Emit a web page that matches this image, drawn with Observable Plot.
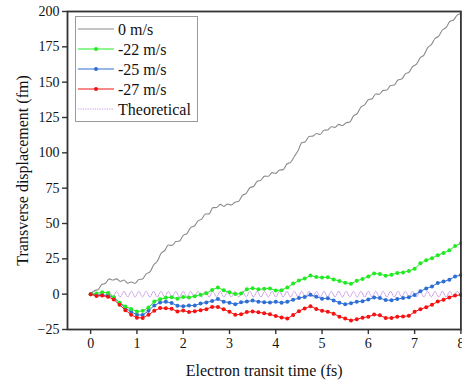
<!DOCTYPE html>
<html><head><meta charset="utf-8">
<script src="https://cdn.jsdelivr.net/npm/d3@7"></script>
<script src="https://cdn.jsdelivr.net/npm/@observablehq/plot@0.6"></script>
<style>
body{margin:0;background:#fff}
#wrap{position:relative;width:462px;height:381px;overflow:hidden}
#legend{position:absolute;left:0;top:0}
#wrap svg text{font-family:"Liberation Serif","Times New Roman",Times,"DejaVu Serif",serif !important}
</style>
</head><body><div id="wrap"></div>
<script>
// ---- data ----
const seriesNames = ["0 m/s", "-22 m/s", "-25 m/s", "-27 m/s", "Theoretical"];
const seriesColors = ["#8a8a8a", "#22ea22", "#2e6fd6", "#f41212", "#c994e4"];
const fineStep = 0.08;   // time step (fs) of the 0 m/s and theoretical curves
const coarseStep = 0.125; // time step (fs) of the marked curves
const grayVals = [
  0, 2.5, 3.2, 6.8, 7.7, 10.8, 10.0, 10.8, 9.0, 10.0,
  7.8, 8.6, 7.7, 10.4, 10.8, 14.4, 15.7, 20.6, 23.3, 28.8,
  30.8, 34.8, 34.5, 37.2, 37.6, 41.6, 42.9, 47.1, 48.2, 51.8,
  53.1, 56.7, 56.8, 61.2, 61.3, 63.5, 62.1, 63.8, 63.1, 65.1,
  65.8, 69.9, 71.3, 75.3, 76.2, 79.9, 80.7, 83.5, 83.4, 86.0,
  85.5, 87.8, 88.1, 92.1, 93.3, 97.4, 101.4, 107.1, 107.9, 111.6,
  111.8, 113.7, 113.0, 116.0, 116.2, 118.5, 118.0, 120.1, 119.3, 121.3,
  121.8, 126.2, 127.8, 132.3, 134.0, 137.5, 138.3, 141.6, 141.5, 144.2,
  144.4, 147.6, 148.0, 151.5, 152.2, 155.8, 157.1, 161.1, 162.7, 167.2,
  169.1, 174.3, 176.5, 180.9, 182.5, 186.9, 188.7, 192.9, 194.0, 197.4,
  198.5
];
const theoryVals = [
  0,
  2, -2, 2, -2, 2, -2, 2, -2, 2, -2,
  2, -2, 2, -2, 2, -2, 2, -2, 2, -2,
  2, -2, 2, -2, 2, -2, 2, -2, 2, -2,
  2, -2, 2, -2, 2, -2, 2, -2, 2, -2,
  2, -2, 2, -2, 2, -2, 2, -2, 2, -2,
  2, -2, 2, -2, 2, -2, 2, -2, 2, -2,
  2, -2, 2, -2, 2, -2, 2, -2, 2, -2,
  2, -2, 2, -2, 2, -2, 2, -2, 2, -2,
  2, -2, 2, -2, 2, -2, 2, -2, 2, -2,
  2, -2, 2, -2, 2, -2, 2, -2, 2, -2
];
const greenVals = [
  0, 0.5, 1.4, 0.8, -2.1, -6.0, -8.8, -10.5, -12.3, -11.8,
  -9.5, -5.2, -3.6, -2.5, -2.1, -3.2, -2.0, -2.3, -1.4, -0.4,
  0.6, 3.0, 4.8, 2.7, 1.3, 0.1, 0.5, 3.4, 4.2, 3.4,
  3.8, 4.0, 2.6, 2.8, 4.8, 7.5, 9.7, 11.1, 13.2, 12.1,
  11.8, 12.0, 10.4, 9.3, 8.0, 7.4, 9.5, 10.7, 12.5, 14.6,
  14.3, 13.0, 13.8, 15.0, 15.4, 16.4, 18.0, 21.8, 24.0, 25.5,
  27.6, 29.2, 31.0, 34.0, 36.0
];
const blueVals = [
  0, -0.5, -0.8, -0.6, -2.5, -6.0, -9.8, -12.4, -14.6, -14.8,
  -11.8, -8.0, -5.9, -5.3, -6.3, -8.2, -8.6, -8.1, -8.0, -6.6,
  -5.9, -4.9, -3.5, -5.3, -6.0, -7.2, -5.8, -5.2, -4.5, -5.3,
  -5.7, -5.9, -5.4, -6.0, -5.4, -4.0, -2.8, -2.0, -0.5, -1.8,
  -3.2, -2.9, -4.4, -6.0, -7.2, -6.4, -5.3, -5.0, -3.8, -2.4,
  -2.8, -4.2, -4.3, -3.4, -2.8, -2.2, -0.6, 2.0, 4.0, 5.5,
  7.9, 8.9, 10.2, 12.5, 13.5
];
const redVals = [
  0, -1.3, -1.0, -1.8, -3.8, -7.5, -11.3, -14.6, -16.6, -16.8,
  -14.6, -11.8, -9.8, -10.0, -10.4, -12.2, -11.6, -12.7, -12.1, -11.3,
  -10.6, -9.0, -9.1, -10.7, -12.5, -14.6, -14.2, -12.7, -12.3, -12.8,
  -13.5, -14.2, -15.5, -16.5, -17.2, -14.8, -12.0, -10.1, -8.6, -10.5,
  -11.7, -12.4, -13.8, -15.9, -17.3, -18.6, -17.8, -16.6, -16.0, -14.4,
  -15.0, -16.9, -16.9, -15.9, -15.8, -15.3, -12.5, -10.6, -9.3, -7.5,
  -5.2, -4.0, -2.3, -1.0, -0.5
];
const xTicks = [0, 1, 2, 3, 4, 5, 6, 7, 8];
const yTicks = [-25, 0, 25, 50, 75, 100, 125, 150, 175, 200];
const xLabel = "Electron transit time (fs)";
const yLabel = "Transverse displacement (fm)";

// ---- build tables ----
const toRows = (vals, step) => vals.map((v, i) => ({t: i * step, v}));
const gray = toRows(grayVals, fineStep);
const theory = toRows(theoryVals, fineStep);
const marked = [
  {rows: toRows(blueVals, coarseStep), color: seriesColors[2]},
  {rows: toRows(greenVals, coarseStep), color: seriesColors[1]},
  {rows: toRows(redVals, coarseStep), color: seriesColors[3]}
];

const font = "Liberation Serif, Times New Roman, Times, DejaVu Serif, serif";
const marks = [
  Plot.line(theory, {x: "t", y: "v", stroke: seriesColors[4], strokeWidth: 1, strokeDasharray: "1.2,1.2", curve: "monotone-x"}),
  Plot.line(gray, {x: "t", y: "v", stroke: seriesColors[0], strokeWidth: 1.1, curve: "monotone-x"})
];
for (const s of marked) {
  marks.push(Plot.line(s.rows, {x: "t", y: "v", stroke: s.color, strokeWidth: 1}));
  marks.push(Plot.dot(s.rows, {x: "t", y: "v", fill: s.color, r: 2}));
}
marks.push(
  Plot.frame({stroke: "#333", strokeWidth: 1.8}),
  Plot.axisX({ticks: xTicks, tickSize: 5, tickPadding: 4, label: null, fontSize: 14, stroke: "#333", strokeWidth: 1.4}),
  Plot.axisY({ticks: yTicks, tickSize: 5, tickPadding: 3, label: null, fontSize: 14, stroke: "#333", strokeWidth: 1.4}),
  Plot.text([xLabel], {frameAnchor: "bottom", dy: 41, lineAnchor: "middle", fontSize: 16, fill: "#111"}),
  Plot.text([yLabel], {frameAnchor: "left", dx: -45, rotate: -90, textAnchor: "middle", lineAnchor: "middle", fontSize: 16, fill: "#111"})
);

const chart = Plot.plot({
  width: 462,
  height: 381,
  marginLeft: 67,
  marginRight: 1.6,
  marginTop: 11,
  marginBottom: 52,
  x: {domain: [-0.5, 8]},
  y: {domain: [-25, 200]},
  style: {fontFamily: font, fontSize: "14px", color: "#111", background: "#fff", overflow: "visible"},
  marks
});
const wrap = document.getElementById("wrap");
wrap.appendChild(chart);

// ---- legend ----
const lg = d3.select(wrap).append("svg").attr("id", "legend").attr("width", 462).attr("height", 381);
lg.append("rect").attr("x", 75.5).attr("y", 16.5).attr("width", 122).attr("height", 105)
  .attr("fill", "#fff").attr("stroke", "#9a9a9a").attr("stroke-width", 1);
seriesNames.forEach((name, i) => {
  const y = 29 + i * 20;
  const line = lg.append("line").attr("x1", 78).attr("x2", 114).attr("y1", y).attr("y2", y)
    .attr("stroke", seriesColors[i]).attr("stroke-width", i === 4 ? 1 : 1.1);
  if (i === 4) line.attr("stroke-dasharray", "1.2,1.2");
  if (i >= 1 && i <= 3) lg.append("circle").attr("cx", 96).attr("cy", y).attr("r", 2).attr("fill", seriesColors[i]);
  lg.append("text").attr("x", 118).attr("y", y).attr("dy", "0.35em")
    .attr("font-size", 16).attr("fill", "#111").text(name);
});
</script>
</body></html>
